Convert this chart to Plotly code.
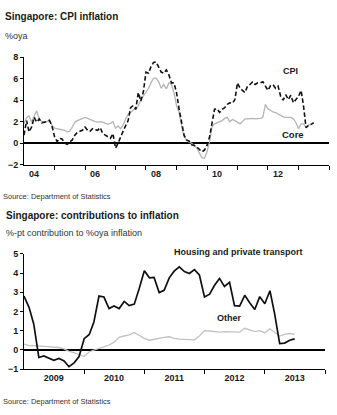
import plotly.graph_objects as go
import pandas as pd

# ---------------- data ----------------
# Singapore CPI inflation, %oya, monthly from Jan 2004
cpi = [0.75, 2.1, 1.05, 1.5, 2.4, 1.95, 2.25, 1.9, 1.95, 2.0, 2.1, 1.6,
       0.6, 0.15, 0.45, 0.4, 0.0, -0.1, 0.1, 0.3, 0.75, 1.0, 1.1, 1.2,
       1.5, 1.2, 1.1, 1.35, 1.25, 1.2, 1.45, 0.9, 0.75, 0.6, 0.45, 0.9,
       -0.45, 0.0, 0.6, 1.1, 1.6, 2.1, 3.3, 3.5, 3.15, 4.7, 3.9, 4.8,
       6.6, 6.5, 7.1, 7.5, 7.55, 7.0, 6.6, 6.5, 6.8, 6.35, 5.6, 5.6,
       4.7, 3.15, 2.0, 0.75, 0.3, 0.2, -0.15, -0.2, -0.35, -0.6, -0.8, -0.65,
       -0.2, 0.6, 2.0, 3.15, 3.2, 2.85, 3.15, 3.3, 3.6, 3.75, 3.7, 4.05,
       5.6, 5.1, 4.9, 4.7, 5.3, 5.45, 5.7, 5.45, 5.6, 5.6, 5.7, 5.35,
       4.9, 5.35, 5.45, 5.1, 5.3, 4.35, 4.0, 4.5, 4.05, 4.45, 3.75, 4.05,
       4.35, 4.9, 3.5, 1.45, 1.65, 1.75, 1.9]
core = [1.8, 2.4, 2.55, 1.95, 2.5, 3.0, 2.25, 2.0, 2.0, 2.0, 2.2, 1.65,
        1.4, 1.35, 1.35, 1.3, 1.2, 1.05, 1.1, 1.5, 1.95, 2.1, 2.2, 2.3,
        2.4, 2.3, 2.2, 2.1, 2.0, 1.95, 2.0, 1.95, 1.85, 1.75, 1.85, 2.0,
        1.4, 1.6, 1.35, 1.65, 2.25, 2.7, 2.85, 3.1, 3.15, 3.45, 4.05, 4.4,
        4.8, 5.1, 5.6, 6.05, 6.05, 5.7, 5.1, 5.45, 5.05, 5.6, 5.45, 4.7,
        3.5, 2.85, 1.65, 0.6, 0.3, 0.1, 0.0, -0.2, -0.45, -0.9, -1.35, -1.4,
        -0.8, 0.2, 1.5, 1.8, 1.9, 2.0, 2.1, 2.3, 2.4, 2.0, 2.2, 2.1,
        1.95, 1.8, 2.0, 2.25, 2.25, 2.3, 2.3, 2.25, 2.25, 2.3, 2.4, 3.6,
        3.2, 3.0, 2.9, 2.85, 2.7, 2.55, 2.45, 2.4, 2.4, 2.4, 2.25, 1.9,
        1.35, 1.8, 1.8, 1.5, 1.7, 1.7]

# Contributions to inflation, %-pt, monthly from Jan 2009
housing = [2.8, 2.2, 1.35, -0.4, -0.32, -0.45, -0.55, -0.45, -0.58, -0.88, -0.68, -0.35,
           0.58, 0.8, 1.45, 2.8, 2.75, 2.15, 2.28, 2.15, 2.52, 2.3, 2.38, 3.2,
           4.12, 3.75, 3.77, 2.98, 3.1, 3.75, 4.1, 4.32, 4.08, 3.98, 4.18, 3.9,
           2.75, 2.9, 3.35, 3.72, 3.3, 3.52, 2.3, 2.28, 2.84, 2.45, 2.1, 2.77,
           2.4, 3.08, 1.9, 0.32, 0.35, 0.5, 0.57]
other = [0.3, 0.22, 0.22, 0.2, 0.18, 0.15, 0.14, 0.12, 0.05, -0.08, -0.15, -0.25,
         -0.35, -0.1, 0.0, 0.08, 0.15, 0.25, 0.4, 0.65, 0.72, 0.78, 0.9, 0.75,
         0.6, 0.5, 0.55, 0.62, 0.65, 0.68, 0.6, 0.56, 0.55, 0.53, 0.52, 0.72,
         1.0, 0.98, 0.95, 0.92, 0.95, 0.95, 0.95, 0.92, 1.12, 1.05, 0.95, 1.0,
         0.88, 1.1, 0.92, 0.72, 0.8, 0.85, 0.8]

top_tick_years = [2004, 2006, 2008, 2010, 2012]
top_tick_text = ["04", "06", "08", "10", "12"]
bot_tick_years = [2009, 2010, 2011, 2012, 2013]
bot_tick_text = ["2009", "2010", "2011", "2012", "2013"]

cpi_dates = pd.date_range("2004-01-01", periods=len(cpi), freq="MS")
core_dates = pd.date_range("2004-01-01", periods=len(core), freq="MS")
hous_dates = pd.date_range("2009-01-01", periods=len(housing), freq="MS")
oth_dates = pd.date_range("2009-01-01", periods=len(other), freq="MS")

# ---------------- styling ----------------
W, H = 337, 415
FONT = "Liberation Sans, Arial, sans-serif"
DARK = "#1a1a1a"


def px(xp):
    return xp / W


def py(yp):
    return 1 - yp / H


fig = go.Figure()
fig.add_trace(go.Scatter(x=core_dates, y=core, mode="lines",
                         line=dict(color="#b4b4b4", width=1.3),
                         xaxis="x", yaxis="y", showlegend=False))
fig.add_trace(go.Scatter(x=cpi_dates, y=cpi, mode="lines",
                         line=dict(color="#111111", width=1.6, dash="4.5px,2.5px"),
                         xaxis="x", yaxis="y", showlegend=False))
fig.add_trace(go.Scatter(x=oth_dates, y=other, mode="lines",
                         line=dict(color="#c2c2c2", width=1.3),
                         xaxis="x2", yaxis="y2", showlegend=False))
fig.add_trace(go.Scatter(x=hous_dates, y=housing, mode="lines",
                         line=dict(color="#111111", width=1.7),
                         xaxis="x2", yaxis="y2", showlegend=False))

axis_common = dict(showgrid=False, linecolor="black", linewidth=1,
                   tickfont=dict(family=FONT, size=9, color=DARK, weight="bold"))

fig.update_layout(
    width=W, height=H,
    margin=dict(l=0, r=0, t=0, b=0),
    paper_bgcolor="white", plot_bgcolor="white",
    showlegend=False,
    xaxis=dict(axis_common, type="date", domain=[px(24), px(329)], anchor="y",
               range=["2004-01-01", "2014-01-01"],
               tickmode="array",
               tickvals=[f"{y}-05-01" for y in top_tick_years],
               ticktext=top_tick_text, ticks="", showline=True,
               minor=dict(tickmode="array",
                          tickvals=[f"{y}-01-01" for y in range(2005, 2015)],
                          ticks="outside", ticklen=4, tickcolor="black", tickwidth=1)),
    yaxis=dict(axis_common, domain=[py(163.7), py(53.3)], anchor="x",
               range=[-2, 8], tickvals=[-2, 0, 2, 4, 6, 8], showline=True,
               ticks="outside", ticklen=3, tickcolor="black",
               zeroline=True, zerolinecolor="black", zerolinewidth=1.5),
    xaxis2=dict(axis_common, type="date", domain=[px(24), px(325)], anchor="y2",
                range=["2009-01-01", "2014-01-01"],
                tickmode="array",
                tickvals=[f"{y}-07-01" for y in bot_tick_years],
                ticktext=bot_tick_text, ticks="", showline=True,
                minor=dict(tickmode="array",
                           tickvals=[f"{y}-01-01" for y in range(2010, 2015)],
                           ticks="outside", ticklen=4, tickcolor="black", tickwidth=1)),
    yaxis2=dict(axis_common, domain=[py(373), py(255)], anchor="x2",
                range=[-1, 5], tickvals=[-1, 0, 1, 2, 3, 4, 5], showline=True,
                ticks="outside", ticklen=3, tickcolor="black",
                zeroline=True, zerolinecolor="black", zerolinewidth=2),
)


def note(text, x, y, size, bold=False, color=DARK, xanchor="left"):
    fig.add_annotation(text=text, xref="paper", yref="paper", x=px(x), y=py(y),
                       xanchor=xanchor, yanchor="middle", showarrow=False,
                       font=dict(family=FONT, size=size, color=color,
                                 weight="bold" if bold else "normal"))


note("Singapore: CPI inflation", 3, 12, 10, bold=True)
note("%oya", 3, 32, 9, color="#333333")
note("CPI", 290, 68, 9, bold=True, xanchor="center")
note("Core", 293, 133, 9.5, bold=True, xanchor="center")
note("Source: Department of Statistics", 1, 196, 7.5, color="#333333")

note("Singapore: contributions to inflation", 4, 216, 10, bold=True)
note("%-pt contribution to %oya inflation", 4, 234, 9, color="#333333")
note("Housing and private transport", 238, 253, 9, bold=True, xanchor="center")
note("Other", 229, 321, 9, bold=True, xanchor="center")
note("Source: Department of Statistics", 1, 406, 7.5, color="#333333")

fig.write_html("out.html")
